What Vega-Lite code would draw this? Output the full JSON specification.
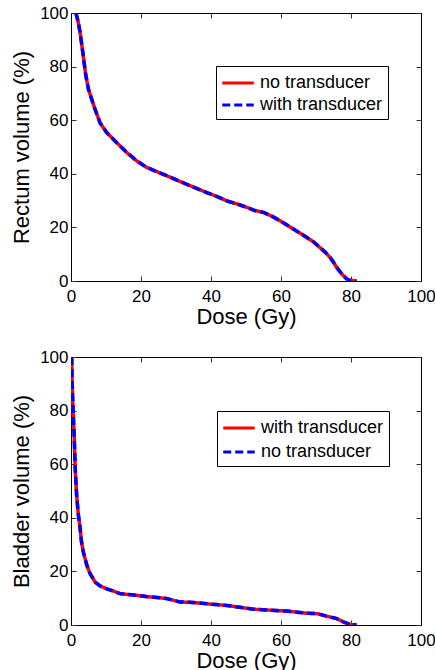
{
  "$schema": "https://vega.github.io/schema/vega-lite/v6.json",
  "padding": {"left": 10, "top": 3, "right": 0, "bottom": 0},
  "background": "white",
  "spacing": 19,
  "config": {
    "view": {"stroke": "black", "strokeWidth": 1},
    "font": "Liberation Sans",
    "axis": {
      "labelFont": "Liberation Sans", "labelFontSize": 17, "labelColor": "black",
      "titleFont": "Liberation Sans", "titleFontSize": 22, "titleFontWeight": "normal", "titleColor": "black",
      "domainColor": "black", "tickColor": "#333", "tickSize": -5, "grid": false,
      "labelFlush": false, "labelOverlap": false
    },
    "legend": {
      "labelFont": "Liberation Sans", "labelFontSize": 18, "labelColor": "black"
    }
  },
  "datasets": {
    "rectum": [
      {"dose": 1.4, "vol": 100, "series": "no transducer"},
      {"dose": 2.0, "vol": 97, "series": "no transducer"},
      {"dose": 2.6, "vol": 92.7, "series": "no transducer"},
      {"dose": 3.1, "vol": 88, "series": "no transducer"},
      {"dose": 3.5, "vol": 84, "series": "no transducer"},
      {"dose": 4.2, "vol": 77, "series": "no transducer"},
      {"dose": 5.0, "vol": 71.5, "series": "no transducer"},
      {"dose": 6.0, "vol": 67.5, "series": "no transducer"},
      {"dose": 6.9, "vol": 64, "series": "no transducer"},
      {"dose": 8.3, "vol": 59, "series": "no transducer"},
      {"dose": 10.2, "vol": 55.4, "series": "no transducer"},
      {"dose": 13, "vol": 51.7, "series": "no transducer"},
      {"dose": 15.9, "vol": 48, "series": "no transducer"},
      {"dose": 18.8, "vol": 44.8, "series": "no transducer"},
      {"dose": 21.6, "vol": 42.4, "series": "no transducer"},
      {"dose": 24.5, "vol": 40.8, "series": "no transducer"},
      {"dose": 27.3, "vol": 39.3, "series": "no transducer"},
      {"dose": 30, "vol": 37.8, "series": "no transducer"},
      {"dose": 33, "vol": 36.1, "series": "no transducer"},
      {"dose": 36, "vol": 34.5, "series": "no transducer"},
      {"dose": 38.8, "vol": 33, "series": "no transducer"},
      {"dose": 41.6, "vol": 31.6, "series": "no transducer"},
      {"dose": 44.5, "vol": 29.9, "series": "no transducer"},
      {"dose": 47.3, "vol": 28.8, "series": "no transducer"},
      {"dose": 50.2, "vol": 27.5, "series": "no transducer"},
      {"dose": 52.5, "vol": 26.3, "series": "no transducer"},
      {"dose": 55, "vol": 25.6, "series": "no transducer"},
      {"dose": 57.5, "vol": 24.1, "series": "no transducer"},
      {"dose": 59.7, "vol": 22.5, "series": "no transducer"},
      {"dose": 61.6, "vol": 21.0, "series": "no transducer"},
      {"dose": 63.5, "vol": 19.4, "series": "no transducer"},
      {"dose": 65.4, "vol": 17.9, "series": "no transducer"},
      {"dose": 67.3, "vol": 16.3, "series": "no transducer"},
      {"dose": 69.3, "vol": 14.6, "series": "no transducer"},
      {"dose": 71.1, "vol": 12.5, "series": "no transducer"},
      {"dose": 72.6, "vol": 10.8, "series": "no transducer"},
      {"dose": 74, "vol": 8.8, "series": "no transducer"},
      {"dose": 75, "vol": 7.0, "series": "no transducer"},
      {"dose": 75.9, "vol": 5.1, "series": "no transducer"},
      {"dose": 76.9, "vol": 3.4, "series": "no transducer"},
      {"dose": 77.8, "vol": 2.0, "series": "no transducer"},
      {"dose": 78.6, "vol": 1.0, "series": "no transducer"},
      {"dose": 79.2, "vol": 0.4, "series": "no transducer"},
      {"dose": 80.5, "vol": 0.1, "series": "no transducer"},
      {"dose": 81.6, "vol": 0, "series": "no transducer"},
      {"dose": 1.4, "vol": 100, "series": "with transducer"},
      {"dose": 2.0, "vol": 97, "series": "with transducer"},
      {"dose": 2.6, "vol": 92.7, "series": "with transducer"},
      {"dose": 3.1, "vol": 88, "series": "with transducer"},
      {"dose": 3.5, "vol": 84, "series": "with transducer"},
      {"dose": 4.2, "vol": 77, "series": "with transducer"},
      {"dose": 5.0, "vol": 71.5, "series": "with transducer"},
      {"dose": 6.0, "vol": 67.5, "series": "with transducer"},
      {"dose": 6.9, "vol": 64, "series": "with transducer"},
      {"dose": 8.3, "vol": 59, "series": "with transducer"},
      {"dose": 10.2, "vol": 55.4, "series": "with transducer"},
      {"dose": 13, "vol": 51.7, "series": "with transducer"},
      {"dose": 15.9, "vol": 48, "series": "with transducer"},
      {"dose": 18.8, "vol": 44.8, "series": "with transducer"},
      {"dose": 21.6, "vol": 42.4, "series": "with transducer"},
      {"dose": 24.5, "vol": 40.8, "series": "with transducer"},
      {"dose": 27.3, "vol": 39.3, "series": "with transducer"},
      {"dose": 30, "vol": 37.8, "series": "with transducer"},
      {"dose": 33, "vol": 36.1, "series": "with transducer"},
      {"dose": 36, "vol": 34.5, "series": "with transducer"},
      {"dose": 38.8, "vol": 33, "series": "with transducer"},
      {"dose": 41.6, "vol": 31.6, "series": "with transducer"},
      {"dose": 44.5, "vol": 29.9, "series": "with transducer"},
      {"dose": 47.3, "vol": 28.8, "series": "with transducer"},
      {"dose": 50.2, "vol": 27.5, "series": "with transducer"},
      {"dose": 52.5, "vol": 26.3, "series": "with transducer"},
      {"dose": 55, "vol": 25.6, "series": "with transducer"},
      {"dose": 57.5, "vol": 24.1, "series": "with transducer"},
      {"dose": 59.7, "vol": 22.5, "series": "with transducer"},
      {"dose": 61.6, "vol": 21.0, "series": "with transducer"},
      {"dose": 63.5, "vol": 19.4, "series": "with transducer"},
      {"dose": 65.4, "vol": 17.9, "series": "with transducer"},
      {"dose": 67.3, "vol": 16.3, "series": "with transducer"},
      {"dose": 69.3, "vol": 14.6, "series": "with transducer"},
      {"dose": 71.1, "vol": 12.5, "series": "with transducer"},
      {"dose": 72.6, "vol": 10.8, "series": "with transducer"},
      {"dose": 74, "vol": 8.8, "series": "with transducer"},
      {"dose": 75, "vol": 7.0, "series": "with transducer"},
      {"dose": 75.9, "vol": 5.1, "series": "with transducer"},
      {"dose": 76.9, "vol": 3.4, "series": "with transducer"},
      {"dose": 77.8, "vol": 2.0, "series": "with transducer"},
      {"dose": 78.6, "vol": 1.0, "series": "with transducer"},
      {"dose": 79.2, "vol": 0.4, "series": "with transducer"},
      {"dose": 80.5, "vol": 0.1, "series": "with transducer"},
      {"dose": 81.6, "vol": 0, "series": "with transducer"}
    ],
    "bladder": [
      {"dose": 0.2, "vol": 100, "series": "with transducer"},
      {"dose": 0.3, "vol": 92, "series": "with transducer"},
      {"dose": 0.5, "vol": 83.5, "series": "with transducer"},
      {"dose": 0.7, "vol": 77, "series": "with transducer"},
      {"dose": 0.9, "vol": 71, "series": "with transducer"},
      {"dose": 1.2, "vol": 58.6, "series": "with transducer"},
      {"dose": 1.6, "vol": 48.6, "series": "with transducer"},
      {"dose": 2.1, "vol": 41.1, "series": "with transducer"},
      {"dose": 2.6, "vol": 36.2, "series": "with transducer"},
      {"dose": 3.0, "vol": 31, "series": "with transducer"},
      {"dose": 3.5, "vol": 27.4, "series": "with transducer"},
      {"dose": 4.5, "vol": 22.4, "series": "with transducer"},
      {"dose": 5.4, "vol": 19.3, "series": "with transducer"},
      {"dose": 6.9, "vol": 16.0, "series": "with transducer"},
      {"dose": 8.3, "vol": 14.6, "series": "with transducer"},
      {"dose": 10.2, "vol": 13.5, "series": "with transducer"},
      {"dose": 12.1, "vol": 12.7, "series": "with transducer"},
      {"dose": 14, "vol": 11.7, "series": "with transducer"},
      {"dose": 17.8, "vol": 11.2, "series": "with transducer"},
      {"dose": 21.6, "vol": 10.6, "series": "with transducer"},
      {"dose": 27.3, "vol": 9.9, "series": "with transducer"},
      {"dose": 31.1, "vol": 8.6, "series": "with transducer"},
      {"dose": 35, "vol": 8.4, "series": "with transducer"},
      {"dose": 39.7, "vol": 7.8, "series": "with transducer"},
      {"dose": 44.5, "vol": 7.3, "series": "with transducer"},
      {"dose": 48.3, "vol": 6.6, "series": "with transducer"},
      {"dose": 52, "vol": 5.9, "series": "with transducer"},
      {"dose": 55.9, "vol": 5.6, "series": "with transducer"},
      {"dose": 61.6, "vol": 5.2, "series": "with transducer"},
      {"dose": 67.3, "vol": 4.4, "series": "with transducer"},
      {"dose": 70.5, "vol": 4.2, "series": "with transducer"},
      {"dose": 73, "vol": 3.3, "series": "with transducer"},
      {"dose": 75.9, "vol": 2.4, "series": "with transducer"},
      {"dose": 77.8, "vol": 1.2, "series": "with transducer"},
      {"dose": 79.7, "vol": 0.2, "series": "with transducer"},
      {"dose": 81.6, "vol": 0, "series": "with transducer"},
      {"dose": 0.2, "vol": 100, "series": "no transducer"},
      {"dose": 0.3, "vol": 92, "series": "no transducer"},
      {"dose": 0.5, "vol": 83.5, "series": "no transducer"},
      {"dose": 0.7, "vol": 77, "series": "no transducer"},
      {"dose": 0.9, "vol": 71, "series": "no transducer"},
      {"dose": 1.2, "vol": 58.6, "series": "no transducer"},
      {"dose": 1.6, "vol": 48.6, "series": "no transducer"},
      {"dose": 2.1, "vol": 41.1, "series": "no transducer"},
      {"dose": 2.6, "vol": 36.2, "series": "no transducer"},
      {"dose": 3.0, "vol": 31, "series": "no transducer"},
      {"dose": 3.5, "vol": 27.4, "series": "no transducer"},
      {"dose": 4.5, "vol": 22.4, "series": "no transducer"},
      {"dose": 5.4, "vol": 19.3, "series": "no transducer"},
      {"dose": 6.9, "vol": 16.0, "series": "no transducer"},
      {"dose": 8.3, "vol": 14.6, "series": "no transducer"},
      {"dose": 10.2, "vol": 13.5, "series": "no transducer"},
      {"dose": 12.1, "vol": 12.7, "series": "no transducer"},
      {"dose": 14, "vol": 11.7, "series": "no transducer"},
      {"dose": 17.8, "vol": 11.2, "series": "no transducer"},
      {"dose": 21.6, "vol": 10.6, "series": "no transducer"},
      {"dose": 27.3, "vol": 9.9, "series": "no transducer"},
      {"dose": 31.1, "vol": 8.6, "series": "no transducer"},
      {"dose": 35, "vol": 8.4, "series": "no transducer"},
      {"dose": 39.7, "vol": 7.8, "series": "no transducer"},
      {"dose": 44.5, "vol": 7.3, "series": "no transducer"},
      {"dose": 48.3, "vol": 6.6, "series": "no transducer"},
      {"dose": 52, "vol": 5.9, "series": "no transducer"},
      {"dose": 55.9, "vol": 5.6, "series": "no transducer"},
      {"dose": 61.6, "vol": 5.2, "series": "no transducer"},
      {"dose": 67.3, "vol": 4.4, "series": "no transducer"},
      {"dose": 70.5, "vol": 4.2, "series": "no transducer"},
      {"dose": 73, "vol": 3.3, "series": "no transducer"},
      {"dose": 75.9, "vol": 2.4, "series": "no transducer"},
      {"dose": 77.8, "vol": 1.2, "series": "no transducer"},
      {"dose": 79.7, "vol": 0.2, "series": "no transducer"},
      {"dose": 81.6, "vol": 0, "series": "no transducer"}
    ]
  },
  "vconcat": [
    {
      "width": 350, "height": 268,
      "data": {"name": "rectum"},
      "layer": [
        {
          "mark": {"type": "line", "strokeWidth": 3.5, "clip": true},
          "encoding": {
            "x": {"field": "dose", "type": "quantitative", "scale": {"domain": [0, 100], "nice": false}, "axis": {"values": [0, 20, 40, 60, 80, 100], "title": "Dose (Gy)", "labelPadding": 12, "titlePadding": 2}},
            "y": {"field": "vol", "type": "quantitative", "scale": {"domain": [0, 100], "nice": false}, "axis": {"values": [0, 20, 40, 60, 80, 100], "title": "Rectum volume (%)", "labelPadding": 8, "titlePadding": 6}},
            "color": {"field": "series", "type": "nominal", "sort": null, "scale": {"domain": ["no transducer", "with transducer"], "range": ["#ff0000", "#0000ff"]},
              "legend": {"orient": "none", "legendX": 145, "legendY": 53, "title": null, "symbolType": "M-1.5,0H1.5", "symbolSize": 441, "symbolOffset": 5, "symbolStrokeWidth": 3, "strokeColor": "black", "fillColor": "white", "padding": 5, "labelOffset": 10, "rowPadding": 1}},
            "strokeDash": {"field": "series", "type": "nominal", "sort": null, "scale": {"domain": ["no transducer", "with transducer"], "range": [[1, 0], [8, 4]]}}
          }
        },
        {
          "mark": {"type": "point", "opacity": 0},
          "encoding": {
            "x": {"field": "dose", "type": "quantitative", "axis": {"orient": "top", "values": [0, 20, 40, 60, 80, 100], "labels": false, "title": null}},
            "y": {"field": "vol", "type": "quantitative", "axis": {"orient": "right", "values": [0, 20, 40, 60, 80, 100], "labels": false, "title": null}}
          }
        }
      ],
      "resolve": {"axis": {"x": "independent", "y": "independent"}}
    },
    {
      "width": 350, "height": 268,
      "data": {"name": "bladder"},
      "layer": [
        {
          "mark": {"type": "line", "strokeWidth": 3.5, "clip": true},
          "encoding": {
            "x": {"field": "dose", "type": "quantitative", "scale": {"domain": [0, 100], "nice": false}, "axis": {"values": [0, 20, 40, 60, 80, 100], "title": "Dose (Gy)", "labelPadding": 12, "titlePadding": 2}},
            "y": {"field": "vol", "type": "quantitative", "scale": {"domain": [0, 100], "nice": false}, "axis": {"values": [0, 20, 40, 60, 80, 100], "title": "Bladder volume (%)", "labelPadding": 8, "titlePadding": 6}},
            "color": {"field": "series", "type": "nominal", "sort": null, "scale": {"domain": ["with transducer", "no transducer"], "range": ["#ff0000", "#0000ff"]},
              "legend": {"orient": "none", "legendX": 146, "legendY": 54, "title": null, "symbolType": "M-1.5,0H1.5", "symbolSize": 441, "symbolOffset": 5, "symbolStrokeWidth": 3, "strokeColor": "black", "fillColor": "white", "padding": 5, "labelOffset": 10, "rowPadding": 3}},
            "strokeDash": {"field": "series", "type": "nominal", "sort": null, "scale": {"domain": ["with transducer", "no transducer"], "range": [[1, 0], [8, 4]]}}
          }
        },
        {
          "mark": {"type": "point", "opacity": 0},
          "encoding": {
            "x": {"field": "dose", "type": "quantitative", "axis": {"orient": "top", "values": [0, 20, 40, 60, 80, 100], "labels": false, "title": null}},
            "y": {"field": "vol", "type": "quantitative", "axis": {"orient": "right", "values": [0, 20, 40, 60, 80, 100], "labels": false, "title": null}}
          }
        }
      ],
      "resolve": {"axis": {"x": "independent", "y": "independent"}}
    }
  ],
  "resolve": {"scale": {"color": "independent", "strokeDash": "independent"}, "legend": {"color": "independent", "strokeDash": "independent"}}
}
